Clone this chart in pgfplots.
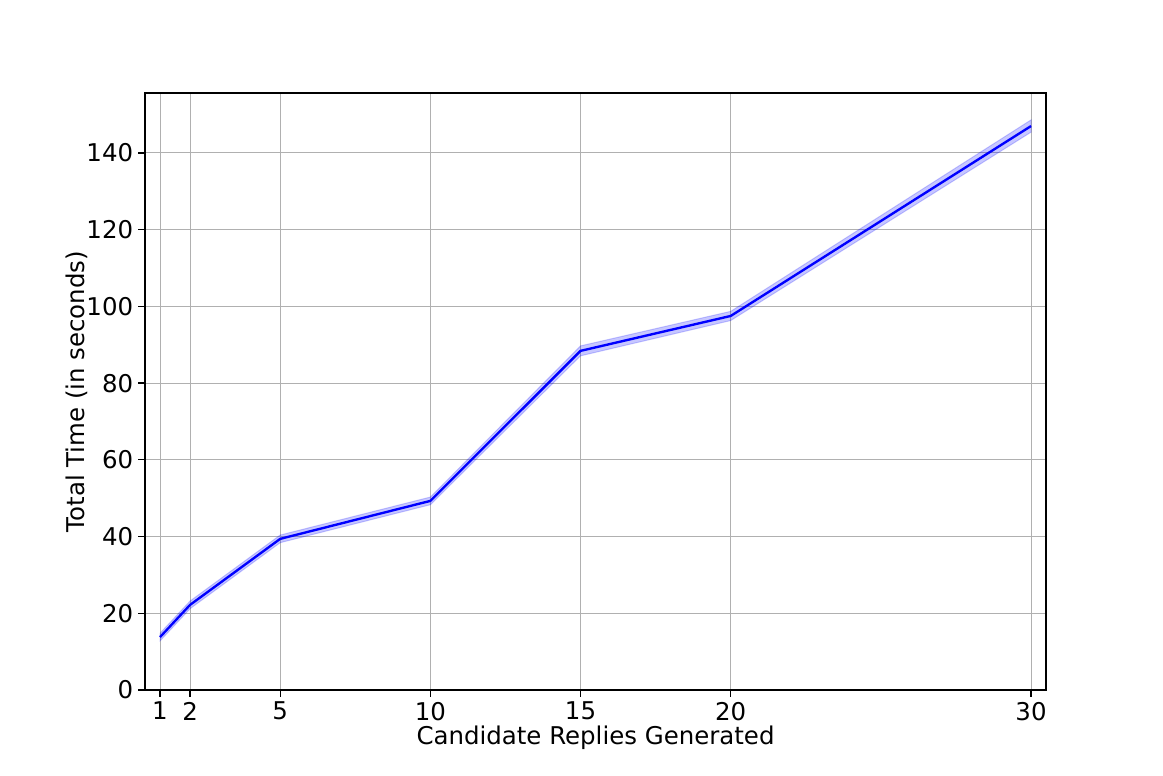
\documentclass[border=0pt]{standalone}
\usepackage{fontspec}
\setmainfont{DejaVu Sans}
\usepackage{pgfplots}
\pgfplotsset{compat=1.18}

\begin{document}
\begin{tikzpicture}
\begin{axis}[
  scale only axis,
  width=648.7pt, height=429.8pt,
  xmin=0.5, xmax=30.5, ymin=0, ymax=155.6,
  xtick={1,2,5,10,15,20,30},
  ytick={0,20,40,60,80,100,120,140},
  xlabel={Candidate Replies Generated},
  ylabel={Total Time (in seconds)},
  grid=major, grid style={color=black!31, line width=0.65pt},
  axis line style={line width=0.9pt},
  tick style={color=black, line width=0.9pt},
  tick align=outside, major tick length=5pt,
  xtick pos=bottom, ytick pos=left,
  /pgf/number format/assume math mode=true,
  tick label style={font=\fontsize{17.6pt}{20pt}\selectfont},
  label style={font=\fontsize{17.6pt}{20pt}\selectfont},
  xlabel style={yshift=3pt},
  ylabel style={yshift=-8pt},
]
% confidence band
\addplot[draw=blue, draw opacity=0.2, fill=blue, fill opacity=0.22, line width=0.7pt] coordinates {
  (1,14.8) (2,23.2) (5,40.4) (10,50.3) (15,89.7) (20,98.7) (30,148.6)
  (30,145.4) (20,96.3) (15,87.1) (10,48.3) (5,38.4) (2,21.2) (1,12.8)
} -- cycle;
% mean
\addplot[color=blue, line width=1.7pt, mark=none] coordinates {
  (1,13.8) (2,22.2) (5,39.4) (10,49.3) (15,88.4) (20,97.5) (30,147.0)
};
\end{axis}
\pgfresetboundingbox
\path[use as bounding box] ([shift={(-104.4pt,-61.2pt)}]current axis.south west) rectangle ([shift={(84.2pt,67pt)}]current axis.north east);
\end{tikzpicture}
\end{document}
